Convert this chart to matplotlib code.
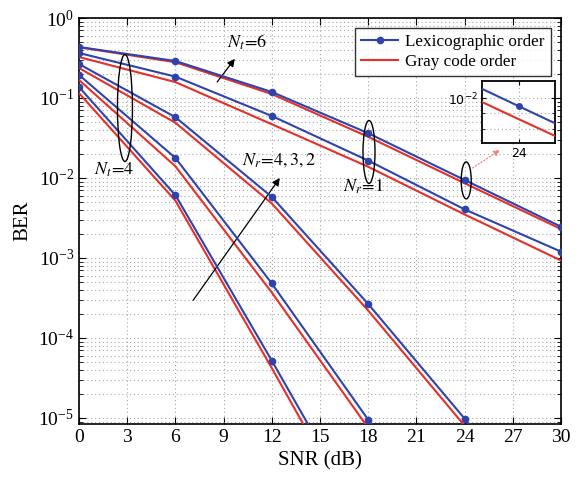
import numpy as np
import matplotlib
matplotlib.use("Agg")
import matplotlib.pyplot as plt
from matplotlib.patches import Ellipse
from matplotlib.lines import Line2D
from matplotlib.ticker import LogLocator, NullFormatter, FixedLocator

plt.rcParams['font.family'] = ['Liberation Serif', 'DejaVu Serif']
plt.rcParams['mathtext.fontset'] = 'stix'

# ---------------- data ----------------
snr = [0, 6, 12, 18, 24, 30]
# Lexicographic order (blue, with markers)
lex_nt6_nr1 = [0.434, 0.29, 0.119, 0.0363, 0.00944, 0.00246]
lex_nt4_nr1 = [0.365, 0.185, 0.0596, 0.0165, 0.00405, 0.0012]
lex_nt4_nr2 = [0.266, 0.0575, 0.0058, 2.66e-4, 9.8e-6, 2.5e-7]
lex_nt4_nr3 = [0.194, 0.0178, 4.8e-4, 9.5e-6, 2.0e-7]
lex_nt4_nr4 = [0.137, 0.0061, 5.2e-5, 4.0e-7]
# Gray code order (red)
gray_nt6_nr1 = [0.43, 0.28, 0.112, 0.0327, 0.0086, 0.0023]
gray_nt4_nr1 = [0.325, 0.158, 0.047, 0.0138, 0.0035, 0.00093]
gray_nt4_nr2 = [0.237, 0.049, 0.0048, 2.2e-4, 8.0e-6, 2.0e-7]
gray_nt4_nr3 = [0.168, 0.014, 3.7e-4, 7.5e-6, 1.5e-7]
gray_nt4_nr4 = [0.115, 0.0052, 4.2e-5, 3.0e-7]

lex_series = [lex_nt6_nr1, lex_nt4_nr1, lex_nt4_nr2, lex_nt4_nr3, lex_nt4_nr4]
gray_series = [gray_nt6_nr1, gray_nt4_nr1, gray_nt4_nr2, gray_nt4_nr3, gray_nt4_nr4]

xticks = [0, 3, 6, 9, 12, 15, 18, 21, 24, 27, 30]
ylim = (8.4e-6, 1.0)

BLUE = '#2f43ad'
RED = '#e5302a'
GRID = '#a8a8a8'

fig = plt.figure(figsize=(5.78, 4.86), dpi=100)
ax = fig.add_axes([79/578, 1-424/486, (561-79)/578, (424-18)/486])

def draw(a, ms=4.5):
    for ys in gray_series:
        a.plot(snr[:len(ys)], ys, color=RED, lw=1.5, zorder=3)
    for ys in lex_series:
        a.plot(snr[:len(ys)], ys, color=BLUE, lw=1.5, marker='o', ms=ms, zorder=4)

draw(ax)
ax.set_yscale('log')
ax.set_xlim(0, 30)
ax.set_ylim(*ylim)
ax.set_xticks(xticks)
ax.set_xticklabels([str(t) for t in xticks])
ax.yaxis.set_major_locator(FixedLocator([1e-5, 1e-4, 1e-3, 1e-2, 1e-1, 1]))
ax.yaxis.set_minor_locator(LogLocator(base=10, subs=np.arange(2, 10), numticks=20))
ax.yaxis.set_minor_formatter(NullFormatter())
ax.tick_params(which='both', direction='in', top=True, right=True, labelsize=14)
ax.tick_params(which='major', length=5)
ax.tick_params(which='minor', length=3)
ax.grid(True, which='major', ls=(0, (1, 2.5)), color=GRID, lw=0.8)
ax.grid(True, which='minor', axis='y', ls=(0, (1, 2.5)), color=GRID, lw=0.8)
for s in ax.spines.values():
    s.set_linewidth(1.2)
ax.set_xlabel('SNR (dB)', fontsize=15)
ax.set_ylabel('BER', fontsize=15)

# legend
handles = [Line2D([], [], color=BLUE, lw=1.5, marker='o', ms=4.5),
           Line2D([], [], color=RED, lw=1.5)]
leg = ax.legend(handles, ['Lexicographic order', 'Gray code order'],
                loc='upper right', fontsize=12.3, frameon=True, fancybox=False,
                edgecolor='black', borderpad=0.35, handlelength=2.2,
                labelspacing=0.2, handletextpad=0.4, borderaxespad=0.6)
leg.get_frame().set_linewidth(1.0)

fig.canvas.draw()

def ellipse_px(cx, cy, wpx, hpx):
    # center in data coordinates, size in pixels
    p = ax.transData.transform((cx, cy))
    pa = ax.transAxes.inverted().transform(p)
    bb = ax.get_window_extent()
    e = Ellipse(pa, wpx / bb.width, hpx / bb.height, transform=ax.transAxes,
                fill=False, ec='black', lw=1.0, zorder=6)
    ax.add_patch(e)

ellipse_px(2.86, 10**-1.125, 15, 107)
ellipse_px(18.05, 10**-1.675, 12, 63)
ellipse_px(24.1, 10**-2.03, 10, 37)

txt = dict(fontsize=13, ha='center', va='center', zorder=7)
ax.text(10.45, 10**-0.3, r'$N_t\!=\!\mathit{6}$', **txt)
ax.text(2.2, 10**-1.9, r'$N_t\!=\!\mathit{4}$', **txt)
ax.text(12.45, 10**-1.78, r'$N_r\!=\!\mathit{4,3,2}$', **txt)
ax.text(17.7, 10**-2.11, r'$N_r\!=\!\mathit{1}$', **txt)

arr = dict(arrowstyle='-|>', lw=0.9, color='black', mutation_scale=11, shrinkA=0, shrinkB=0)
ax.annotate('', xy=(9.7, 10**-0.51), xytext=(8.6, 10**-0.8), arrowprops=arr)
ax.annotate('', xy=(12.5, 10**-2.0), xytext=(7.1, 10**-3.53), arrowprops=arr)
ax.annotate('', xy=(26.2, 10**-1.65), xytext=(24.5, 10**-1.875),
            arrowprops=dict(arrowstyle='-|>', lw=0.9, ls=':', color='#f08080',
                            mutation_scale=9, shrinkA=0, shrinkB=0))

# inset
ins = fig.add_axes([482/578, 1-143/486, 73/578, 62/486])
draw(ins, ms=4)
ins.set_yscale('log')
ins.set_xlim(23.45, 24.55)
ins.set_ylim(10**-2.14, 10**-1.947)
ins.set_xticks([24])
ins.set_xticklabels(['24'], family='DejaVu Sans')
ins.yaxis.set_major_locator(FixedLocator([1e-2]))
ins.yaxis.set_minor_locator(FixedLocator([8e-3, 9e-3]))
ins.yaxis.set_minor_formatter(NullFormatter())
ins.set_yticklabels([r'$10^{-2}$'], math_fontfamily='dejavusans')
ins.tick_params(which='both', direction='in', right=True, top=True, labelsize=9)
ins.tick_params(which='major', length=3, pad=3)
ins.tick_params(which='minor', length=2)
ins.grid(True, which='both', ls=(0, (1, 2.5)), color=GRID, lw=0.8)
for s in ins.spines.values():
    s.set_linewidth(1.3)

fig.savefig('out.png', dpi=100)
